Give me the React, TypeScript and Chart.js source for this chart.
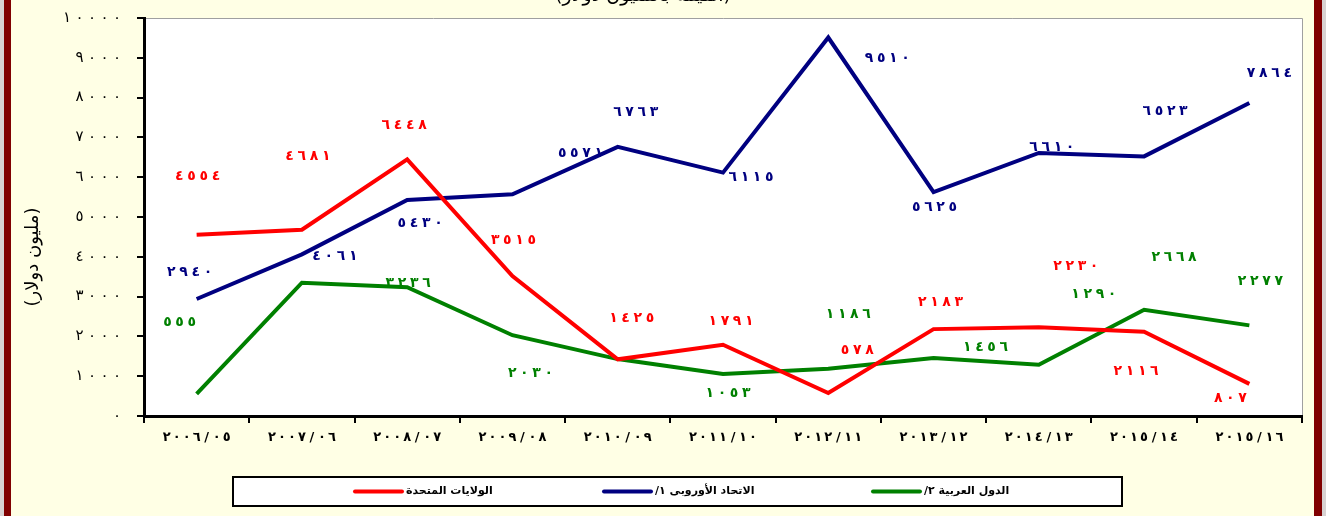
import React, { useEffect, useRef } from "react";
import { Chart, registerables } from "chart.js";

Chart.register(...registerables);

// ---------- data ----------
const categories = [
  "٢٠٠٦/٠٥", "٢٠٠٧/٠٦", "٢٠٠٨/٠٧", "٢٠٠٩/٠٨", "٢٠١٠/٠٩", "٢٠١١/١٠",
  "٢٠١٢/١١", "٢٠١٣/١٢", "٢٠١٤/١٣", "٢٠١٥/١٤", "٢٠١٥/١٦",
];

const usValues = [4554, 4681, 6448, 3515, 1425, 1791, 578, 2183, 2230, 2116, 807];
const euValues = [2940, 4061, 5430, 5571, 6763, 6115, 9510, 5625, 6610, 6523, 7864];
const arabValues = [555, 3350, 3236, 2030, 1430, 1053, 1186, 1456, 1290, 2668, 2277];

const seriesNames = ["الولايات المتحدة", "الاتحاد الأوروبى ١/", "الدول العربية ٢/"];
const seriesColors = ["#FF0000", "#000080", "#008000"];

const yMin = 0;
const yMax = 10000;
const yStep = 1000;

const yAxisTitle = "(مليون دولار)";
const topTitle = "(القيمة بالمليون دولار)";

// label placement (offset from the point, px); null = no label
const usLabelOffsets: ([number, number] | null)[] = [
  [1, -58], [6, -73], [-3, -34], [1, -36], [14, -41], [8, -23],
  [29, -43], [7, -27], [37, -61], [-8, 40], [-19, 14],
];
const euLabelOffsets: ([number, number] | null)[] = [
  [-7, -27], [33, 2], [13, 23], [68, -41], [18, -34], [28, 5],
  [59, 21], [1, 15], [13, -6], [21, -45], [20, -30],
];
const arabLabelOffsets: ([number, number] | null)[] = [
  [-17, -72], null, [1, -4], [18, 38], null, [5, 19],
  [20, -54], [52, -11], [55, -70], [30, -52], [11, -44],
];

const toArabic = (v: number | string) =>
  String(v).replace(/[0-9]/g, (d) => "٠١٢٣٤٥٦٧٨٩"[+d]);

const FONT = "'DejaVu Sans', sans-serif";

// draws a string of digits with a fixed pitch between character centres
function fillPitched(
  ctx: CanvasRenderingContext2D,
  text: string,
  x: number,
  y: number,
  pitch: number,
  align: "center" | "right"
) {
  const chars = Array.from(text);
  const span = pitch * (chars.length - 1);
  const first = align === "center" ? x - span / 2 : x - span;
  ctx.textAlign = "center";
  chars.forEach((c, i) => ctx.fillText(c, first + i * pitch, y));
}

const decorPlugin = {
  id: "decor",
  beforeDraw(chart: any) {
    const { ctx, width, height } = chart;
    const { left, top, right, bottom } = chart.chartArea;
    ctx.save();
    ctx.fillStyle = "#FFFFE5";
    ctx.fillRect(0, 0, width, height);
    ctx.fillStyle = "#D8D2D2";
    ctx.fillRect(0, 0, 4, height);
    ctx.fillRect(width - 4, 0, 4, height);
    ctx.fillStyle = "#800000";
    ctx.fillRect(4, 0, 7, height);
    ctx.fillRect(width - 12, 0, 8, height);
    ctx.fillStyle = "#FFFFFF";
    ctx.fillRect(left, top, right - left, bottom - top);
    ctx.strokeStyle = "#A0A0A0";
    ctx.lineWidth = 1;
    ctx.beginPath();
    ctx.moveTo(left, top + 0.5);
    ctx.lineTo(right + 0.5, top + 0.5);
    ctx.lineTo(right + 0.5, bottom);
    ctx.stroke();

    // partially visible top title
    ctx.fillStyle = "#000";
    ctx.font = `19px ${FONT}`;
    ctx.direction = "rtl";
    ctx.textAlign = "center";
    ctx.textBaseline = "alphabetic";
    ctx.fillText(topTitle, (left + right) / 2 - 80, 1);

    // y axis title
    ctx.save();
    ctx.translate(33, (top + bottom) / 2 + 40);
    ctx.rotate(-Math.PI / 2);
    ctx.font = `18px ${FONT}`;
    ctx.textAlign = "center";
    ctx.textBaseline = "middle";
    ctx.direction = "rtl";
    ctx.fillText(yAxisTitle, 0, 0);
    ctx.restore();
    ctx.restore();
  },
  afterDatasetsDraw(chart: any) {
    const { ctx } = chart;
    const offsets = [usLabelOffsets, euLabelOffsets, arabLabelOffsets];
    ctx.save();
    ctx.direction = "ltr";
    ctx.font = `bold 14px ${FONT}`;
    ctx.textBaseline = "middle";
    chart.data.datasets.forEach((ds: any, di: number) => {
      const meta = chart.getDatasetMeta(di);
      ctx.fillStyle = ds.borderColor;
      meta.data.forEach((pt: any, i: number) => {
        const off = offsets[di][i];
        if (!off) return;
        fillPitched(ctx, toArabic(ds.data[i]), pt.x + off[0], pt.y + off[1], 12.2, "center");
      });
    });

    // axis tick labels
    ctx.fillStyle = "#000";
    const ys = chart.scales.y;
    ctx.font = `15px ${FONT}`;
    ys.ticks.forEach((t: any) => {
      fillPitched(ctx, toArabic(t.value), ys.right - 27, ys.getPixelForValue(t.value), 12.5, "right");
    });
    const xs = chart.scales.x;
    ctx.font = `bold 13px ${FONT}`;
    (chart.data.labels as string[]).forEach((lab, i) => {
      fillPitched(ctx, lab, xs.getPixelForTick(i), xs.top + 22, 10, "center");
    });
    ctx.restore();
  },
  afterDraw(chart: any) {
    const { ctx } = chart;
    ctx.save();
    // legend box
    const bx = 233, by = 477, bw = 889, bh = 29;
    ctx.fillStyle = "#FFFFFF";
    ctx.fillRect(bx, by, bw, bh);
    ctx.strokeStyle = "#000";
    ctx.lineWidth = 2;
    ctx.strokeRect(bx, by, bw, bh);
    const starts = [355, 604, 873];
    const cy = by + bh / 2;
    ctx.font = `bold 11px ${FONT}`;
    ctx.textBaseline = "middle";
    ctx.textAlign = "left";
    ctx.direction = "rtl";
    chart.data.datasets.forEach((ds: any, i: number) => {
      const x0 = starts[i];
      ctx.strokeStyle = ds.borderColor;
      ctx.lineWidth = 4;
      ctx.lineCap = "round";
      ctx.beginPath();
      ctx.moveTo(x0, cy);
      ctx.lineTo(x0 + 47, cy);
      ctx.stroke();
      ctx.fillStyle = "#000";
      ctx.fillText(ds.label, x0 + 51, cy);
    });
    ctx.restore();
  },
};

export default function App() {
  const ref = useRef<HTMLCanvasElement | null>(null);

  useEffect(() => {
    if (!ref.current) return;
    const mk = (i: number, data: number[]) => ({
      label: seriesNames[i],
      data,
      borderColor: seriesColors[i],
      backgroundColor: seriesColors[i],
      borderWidth: 4,
      pointRadius: 0,
      tension: 0,
      fill: false,
    });
    const chart = new Chart(ref.current, {
      type: "line",
      data: {
        labels: categories,
        datasets: [mk(0, usValues), mk(1, euValues), mk(2, arabValues)],
      },
      options: {
        responsive: false,
        animation: false,
        layout: { padding: { top: 18, right: 24, left: 0, bottom: 0 } },
        plugins: {
          legend: { display: false },
          tooltip: { enabled: false },
          title: { display: false },
        },
        scales: {
          x: {
            type: "category",
            offset: true,
            grid: {
              offset: true,
              drawOnChartArea: false,
              drawTicks: true,
              tickLength: 7,
              color: "#000",
              lineWidth: 2,
            },
            border: { color: "#000", width: 3 },
            ticks: { display: false, autoSkip: false, maxRotation: 0 },
            afterFit: (s: any) => {
              s.height = 100;
              s.paddingLeft = 0;
              s.paddingRight = 0;
            },
          },
          y: {
            min: yMin,
            max: yMax,
            ticks: { display: false, stepSize: yStep },
            grid: {
              drawOnChartArea: false,
              tickLength: 7,
              color: "#000",
              lineWidth: 2,
            },
            border: { color: "#000", width: 3 },
            afterFit: (s: any) => {
              s.width = 144;
              s.paddingTop = 0;
              s.paddingBottom = 0;
            },
          },
        },
      } as any,
      plugins: [decorPlugin],
    });
    return () => chart.destroy();
  }, []);

  return (
    <div style={{ position: "absolute", left: 0, top: 0, width: 1326, height: 516 }}>
      <canvas ref={ref} width={1326} height={516} style={{ display: "block" }} />
    </div>
  );
}
